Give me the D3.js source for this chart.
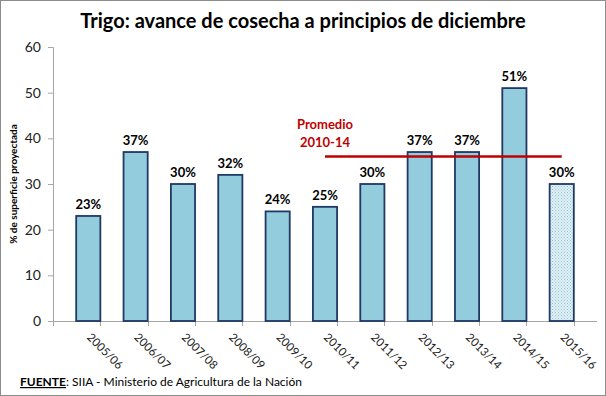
<!DOCTYPE html>
<html>
<head>
<meta charset="utf-8">
<script src="https://cdn.jsdelivr.net/npm/d3@7"></script>
<style>
  html, body { margin: 0; padding: 0; background: #fff; }
  #chart { width: 606px; height: 396px; }
  text { font-family: Lato, "Open Sans", sans-serif; }
  .axis path, .axis line { stroke: #a6a6a6; }
  .axis text { font-size: 14px; fill: #222; }
</style>
</head>
<body>
<div id="chart"></div>
<script>
const campaigns = ["2005/06","2006/07","2007/08","2008/09","2009/10","2010/11","2011/12","2012/13","2013/14","2014/15","2015/16"];
const avance = [23, 37, 30, 32, 24, 25, 30, 37, 37, 51, 30];
const yTicks = [0, 10, 20, 30, 40, 50, 60];
const promedioFrom = "2010/11", promedioTo = "2015/16";
const promedioValue = 36;
const promedioLabel = ["Promedio", "2010-14"];

document.addEventListener("DOMContentLoaded", () => {
  const W = 606, H = 396;
  const svg = d3.select("#chart").append("svg")
    .attr("width", W).attr("height", H);

  // dotted fill for the current campaign
  const pat = svg.append("defs").append("pattern")
    .attr("id", "dots").attr("width", 3).attr("height", 3)
    .attr("patternUnits", "userSpaceOnUse");
  pat.append("rect").attr("width", 3).attr("height", 3).attr("fill", "#e4f2f7");
  pat.append("rect").attr("x", 0).attr("y", 0).attr("width", 1).attr("height", 1).attr("fill", "#8cc4d6");
  pat.append("rect").attr("x", 1.5).attr("y", 1.5).attr("width", 1).attr("height", 1).attr("fill", "#8cc4d6");

  svg.append("rect")
    .attr("x", 0.5).attr("y", 0.5).attr("width", W - 1).attr("height", H - 1)
    .attr("fill", "#fff").attr("stroke", "#8c8c8c");

  const x = d3.scaleBand().domain(campaigns).range([53, 597]).padding(0.49);
  const y = d3.scaleLinear().domain([0, 60]).range([321, 47]);

  svg.append("text")
    .attr("x", 303).attr("y", 28)
    .attr("text-anchor", "middle")
    .style("font-size", "20px").style("font-weight", "bold")
    .text("Trigo: avance de cosecha a principios de diciembre");

  const yAxis = d3.axisLeft(y).tickValues(yTicks).tickSize(5).tickPadding(7);
  svg.append("g").attr("class", "axis")
    .attr("transform", "translate(53,0)")
    .call(yAxis)
    .call(g => g.select(".domain").attr("d", "M-5,47.5H0.5V321.5"));

  const xBounds = d3.range(campaigns.length + 1).map(i => 53 + i * x.step());
  const xg = svg.append("g").attr("class", "axis");
  xg.append("line").attr("x1", 53).attr("x2", 597).attr("y1", 321.5).attr("y2", 321.5);
  xg.selectAll(".xt").data(xBounds).enter().append("line")
    .attr("x1", d => Math.round(d) + 0.5).attr("x2", d => Math.round(d) + 0.5)
    .attr("y1", 321).attr("y2", 326);

  svg.selectAll(".xl").data(campaigns).enter().append("text")
    .attr("transform", d => `translate(${x(d) + x.bandwidth() / 2 - 2},${338}) rotate(45)`)
    .style("font-size", "11.5px").attr("fill", "#222")
    .text(d => d);

  svg.append("text")
    .attr("transform", `translate(17,184) rotate(-90)`)
    .attr("text-anchor", "middle")
    .style("font-size", "10px").style("font-weight", "bold")
    .text("% de superficie proyectada");

  const last = campaigns[campaigns.length - 1];
  svg.selectAll(".bar").data(campaigns).enter().append("rect")
    .attr("x", d => x(d))
    .attr("y", (d, i) => y(avance[i]))
    .attr("width", x.bandwidth())
    .attr("height", (d, i) => y(0) - y(avance[i]))
    .attr("fill", d => d === last ? "url(#dots)" : "#93cddd")
    .attr("stroke", "#1f3864").attr("stroke-width", 1.8);

  svg.selectAll(".val").data(campaigns).enter().append("text")
    .attr("x", d => x(d) + x.bandwidth() / 2)
    .attr("y", (d, i) => y(avance[i]) - 7)
    .attr("text-anchor", "middle")
    .style("font-size", "13px").style("font-weight", "bold")
    .text((d, i) => avance[i] + "%");

  const cx = d => x(d) + x.bandwidth() / 2;
  svg.append("line")
    .attr("x1", cx(promedioFrom)).attr("x2", cx(promedioTo))
    .attr("y1", y(promedioValue)).attr("y2", y(promedioValue))
    .attr("stroke", "#c00000").attr("stroke-width", 2.5);

  svg.selectAll(".prom").data(promedioLabel).enter().append("text")
    .attr("x", cx(promedioFrom))
    .attr("y", (d, i) => 129 + i * 18)
    .attr("text-anchor", "middle")
    .attr("fill", "#c00000")
    .style("font-size", "13px").style("font-weight", "bold")
    .text(d => d);

  const foot = svg.append("text").attr("x", 20).attr("y", 386).style("font-size", "12px");
  foot.append("tspan").style("font-weight", "bold").style("text-decoration", "underline").text("FUENTE");
  foot.append("tspan").text(": SIIA - Ministerio de Agricultura de la Nación");
});
</script>
</body>
</html>
